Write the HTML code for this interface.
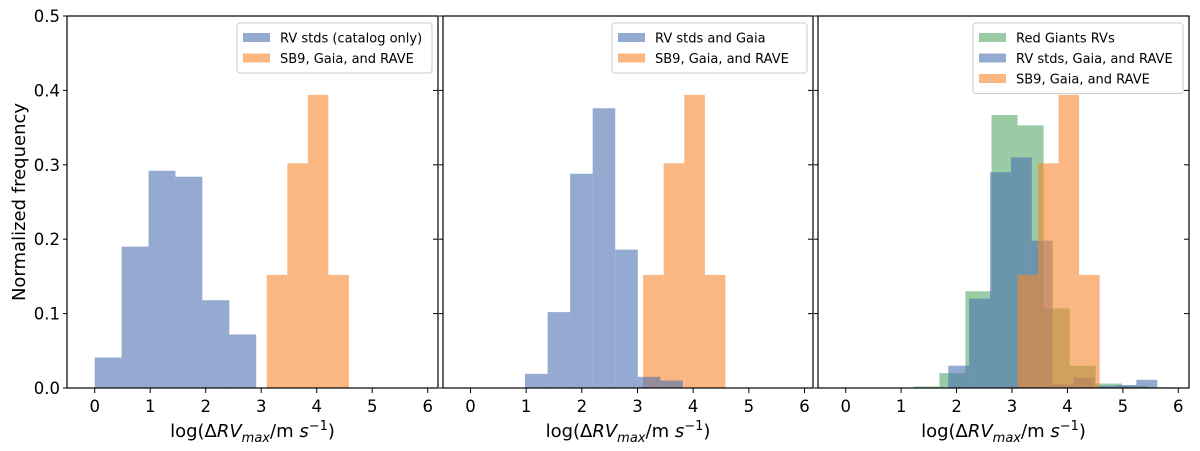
<!DOCTYPE html>
<html><head><meta charset="utf-8"><style>
body{margin:0;background:#fff;}
svg{display:block;font-family:"DejaVu Sans","Liberation Sans",sans-serif;}
</style></head><body>
<svg id="chart" width="1200" height="451" xmlns="http://www.w3.org/2000/svg"></svg>
<script>
// ---- data ----
const p1BlueStart = 0.0, p1BlueWidth = 0.485;
const p1Blue = [0.041, 0.19, 0.292, 0.284, 0.118, 0.072];
const orangeStart = 3.1, orangeWidth = 0.37;
const orangeVals = [0.152, 0.302, 0.394, 0.152];
const p2BlueStart = 0.98, p2BlueWidth = 0.405;
const p2Blue = [0.019, 0.102, 0.288, 0.376, 0.186, 0.015, 0.01];
const p3GreenStart = 1.22, p3GreenWidth = 0.47;
const p3Green = [0.002, 0.02, 0.13, 0.367, 0.353, 0.107, 0.03, 0.006, 0.003, 0.001];
const p3BlueStart = 1.85, p3BlueWidth = 0.377;
const p3Blue = [0.03, 0.12, 0.29, 0.31, 0.198, 0.005, 0.014, 0.003, 0.004, 0.011];
const xTicks = [0,1,2,3,4,5,6];
const yTicks = [0,0.1,0.2,0.3,0.4,0.5];
const yTickLabels = ["0.0","0.1","0.2","0.3","0.4","0.5"];

const NS="http://www.w3.org/2000/svg";
const svg=document.getElementById('chart');
function mk(tag,attrs,parent){const e=document.createElementNS(NS,tag);for(const k in attrs)e.setAttribute(k,attrs[k]);(parent||svg).appendChild(e);return e;}
const COL={blue:"rgb(76,114,176)",orange:"rgb(247,135,45)",green:"rgb(85,168,104)"};
const axTop=16,axBottom=388;
function yS(v){return axBottom-(v/0.5)*(axBottom-axTop);}

const panels=[
 {left:67,right:438,x0:94.7,x6:427.7,name:"panel-1",
  series:[{c:"blue",s:p1BlueStart,w:p1BlueWidth,v:p1Blue},{c:"orange",s:orangeStart,w:orangeWidth,v:orangeVals}],
  legend:[["blue","RV stds (catalog only)"],["orange","SB9, Gaia, and RAVE"]]},
 {left:443,right:813,x0:470.5,x6:804.5,name:"panel-2",
  series:[{c:"orange",s:orangeStart,w:orangeWidth,v:orangeVals},{c:"blue",s:p2BlueStart,w:p2BlueWidth,v:p2Blue}],
  legend:[["blue","RV stds and Gaia"],["orange","SB9, Gaia, and RAVE"]]},
 {left:818,right:1189,x0:845.7,x6:1178.3,name:"panel-3",
  series:[{c:"green",s:p3GreenStart,w:p3GreenWidth,v:p3Green},{c:"blue",s:p3BlueStart,w:p3BlueWidth,v:p3Blue},{c:"orange",s:orangeStart,w:orangeWidth,v:orangeVals}],
  legend:[["green","Red Giants RVs"],["blue","RV stds, Gaia, and RAVE"],["orange","SB9, Gaia, and RAVE"]]}
];

panels.forEach((p,pi)=>{
  const g=mk('g',{});
  
  
  const xS=v=>p.x0+(v/6)*(p.x6-p.x0);
  p.series.forEach(s=>{
    s.v.forEach((v,i)=>{
      const xa=xS(s.s+i*s.w), xb=xS(s.s+(i+1)*s.w);
      const r=mk('rect',{x:xa,y:yS(v),width:xb-xa,height:axBottom-yS(v),fill:COL[s.c],'fill-opacity':0.6},g);
      
      
    });
  });
  const f=mk('rect',{x:p.left,y:axTop,width:p.right-p.left,height:axBottom-axTop,fill:'none',stroke:'#000','stroke-width':1.2},g);
  
  
  xTicks.forEach(t=>{
    const x=xS(t);
    mk('line',{x1:x,x2:x,y1:axBottom,y2:axBottom+5,stroke:'#000','stroke-width':1},g);
    const tx=mk('text',{x:x,y:axBottom+24,'font-size':16.5,'text-anchor':'middle',fill:'#000'},g);
    tx.textContent=t;
    
    
  });
  yTicks.forEach((t,i)=>{
    const y=yS(t);
    mk('line',{x1:p.left-4,x2:p.left,y1:y,y2:y,stroke:'#000','stroke-width':1},g);
    mk('line',{x1:p.right-5,x2:p.right,y1:y,y2:y,stroke:'#000','stroke-width':1},g);
    if(pi===0){
      const tx=mk('text',{x:p.left-7,y:y+6,'font-size':16.5,'text-anchor':'end',fill:'#000'},g);
      tx.textContent=yTickLabels[i];
      
      
    }
  });
  const xl=mk('text',{x:(p.left+p.right)/2,y:437,'font-size':18,'text-anchor':'middle',fill:'#000'},g);
  xl.innerHTML='log(Δ<tspan font-style="italic">RV</tspan><tspan font-style="italic" font-size="13" dy="5">max</tspan><tspan dy="-5">/m </tspan><tspan font-style="italic">s</tspan><tspan font-size="13" dy="-7">−1</tspan><tspan dy="7">)</tspan>';
  
  
  const n=p.legend.length;
  const lw= pi===2?210:195;
  const lx=p.right-6-lw, ly=axTop+7, lh=n*20.5+9;
  const lg=mk('g',{},g);
  
  
  mk('rect',{x:lx,y:ly,width:lw,height:lh,rx:3,fill:'#fff','fill-opacity':0.8,stroke:'#ccc'},lg);
  p.legend.forEach((e,i)=>{
    const yy=ly+7+i*20.5;
    const sw=mk('rect',{x:lx+6,y:yy+3,width:27,height:9,fill:COL[e[0]],'fill-opacity':0.6},lg);
    
    
    const t=mk('text',{x:lx+43,y:yy+12.5,'font-size':13,fill:'#000'},lg);
    t.textContent=e[1];
    
    
  });
});
const yl=mk('text',{x:25,y:202,'font-size':18,'text-anchor':'middle',fill:'#000',transform:'rotate(-90 25 202)'});
yl.textContent='Normalized frequency';


</script>
</body></html>
